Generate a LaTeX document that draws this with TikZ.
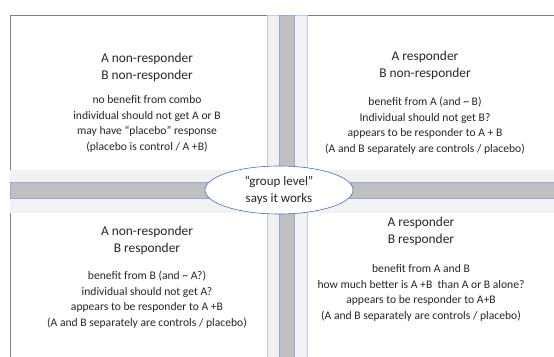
\documentclass[tikz,border=0pt]{standalone}
\usepackage{fontspec}
\setmainfont{Carlito}
\usepackage{tikz}
\usetikzlibrary{calc,shapes.geometric}

\definecolor{bandlight}{HTML}{F2F2F2}
\definecolor{banddark}{HTML}{BFBFBF}
\definecolor{bandedge}{HTML}{8FAADC}
\definecolor{frameline}{HTML}{7F7F7F}
\definecolor{ovaledge}{HTML}{4472C4}

\tikzset{
  heading/.style={align=center, font=\fontsize{13.4}{16.5}\selectfont, text=black!85, inner sep=0pt},
  remark/.style={align=center, font=\fontsize{11.6}{15.5}\selectfont, text=black!85, inner sep=0pt},
}

\begin{document}
\begin{tikzpicture}[x=1pt, y=-1pt]

  % Parameters (pixel units, y downwards)
  \def\W{554}
  \def\H{356}

  \useasboundingbox (0,0) rectangle (\W,\H);
  \clip (0,0) rectangle (\W,\H);

  % Outer frame (runs off the right and bottom)
  \draw[frameline, line width=0.9pt] (10,15) rectangle (\W+10,\H+10);

  % Horizontal band
  \fill[bandlight] (10,170) rectangle (\W+10,213);
  \draw[bandedge, fill=banddark, line width=0.8pt] (10,182) rectangle (\W+10,198);

  % Vertical band
  \draw[bandedge!60, fill=bandlight, line width=0.8pt] (267,15) rectangle (307,\H+10);
  \draw[bandedge, fill=banddark, line width=0.8pt] (279,15) rectangle (294,\H+10);

  % Oval in the middle
  \node[draw=ovaledge, fill=white, ellipse, line width=0.6pt,
        minimum width=148pt, minimum height=48pt, inner sep=0pt,
        align=center, font=\fontsize{13}{17}\selectfont, text=black!85]
    (group) at (279,190) {“group level”\\says it works};

  % Top left: A no, B no
  \node[heading] (tlhead) at (147,67.5) {A non-responder\\B non-responder};
  \node[remark] (tltext) at (147,124) {no benefit from combo\\individual should not get A or B\\may have “placebo” response\\(placebo is control / A +B)};

  % Top right: A yes, B no
  \node[heading] (trhead) at (425,65.5) {A responder\\B non-responder};
  \node[remark] (trtext) at (425,125.5) {benefit from A (and \textasciitilde{} B)\\Individual should not get B?\\appears to be responder\ to A + B\\(A and B separately are controls / placebo)};

  % Bottom left: A no, B yes
  \node[heading] (blhead) at (147,240.5) {A non-responder\\B responder};
  \node[remark] (bltext) at (147,299.5) {benefit from B (and \textasciitilde{} A?)\\individual should not get A?\\appears to be responder\ to A +B\\(A and B separately are controls / placebo)};

  % Bottom right: A yes, B yes
  \node[heading] (brhead) at (421,231.5) {A responder\\B responder};
  \node[remark] (brtext) at (421,293) {benefit from A and B\\how much better is A +B\ \ than A or B alone?\\appears to be responder\ to A+B\\(A and B separately are controls / placebo)};

\end{tikzpicture}
\end{document}
